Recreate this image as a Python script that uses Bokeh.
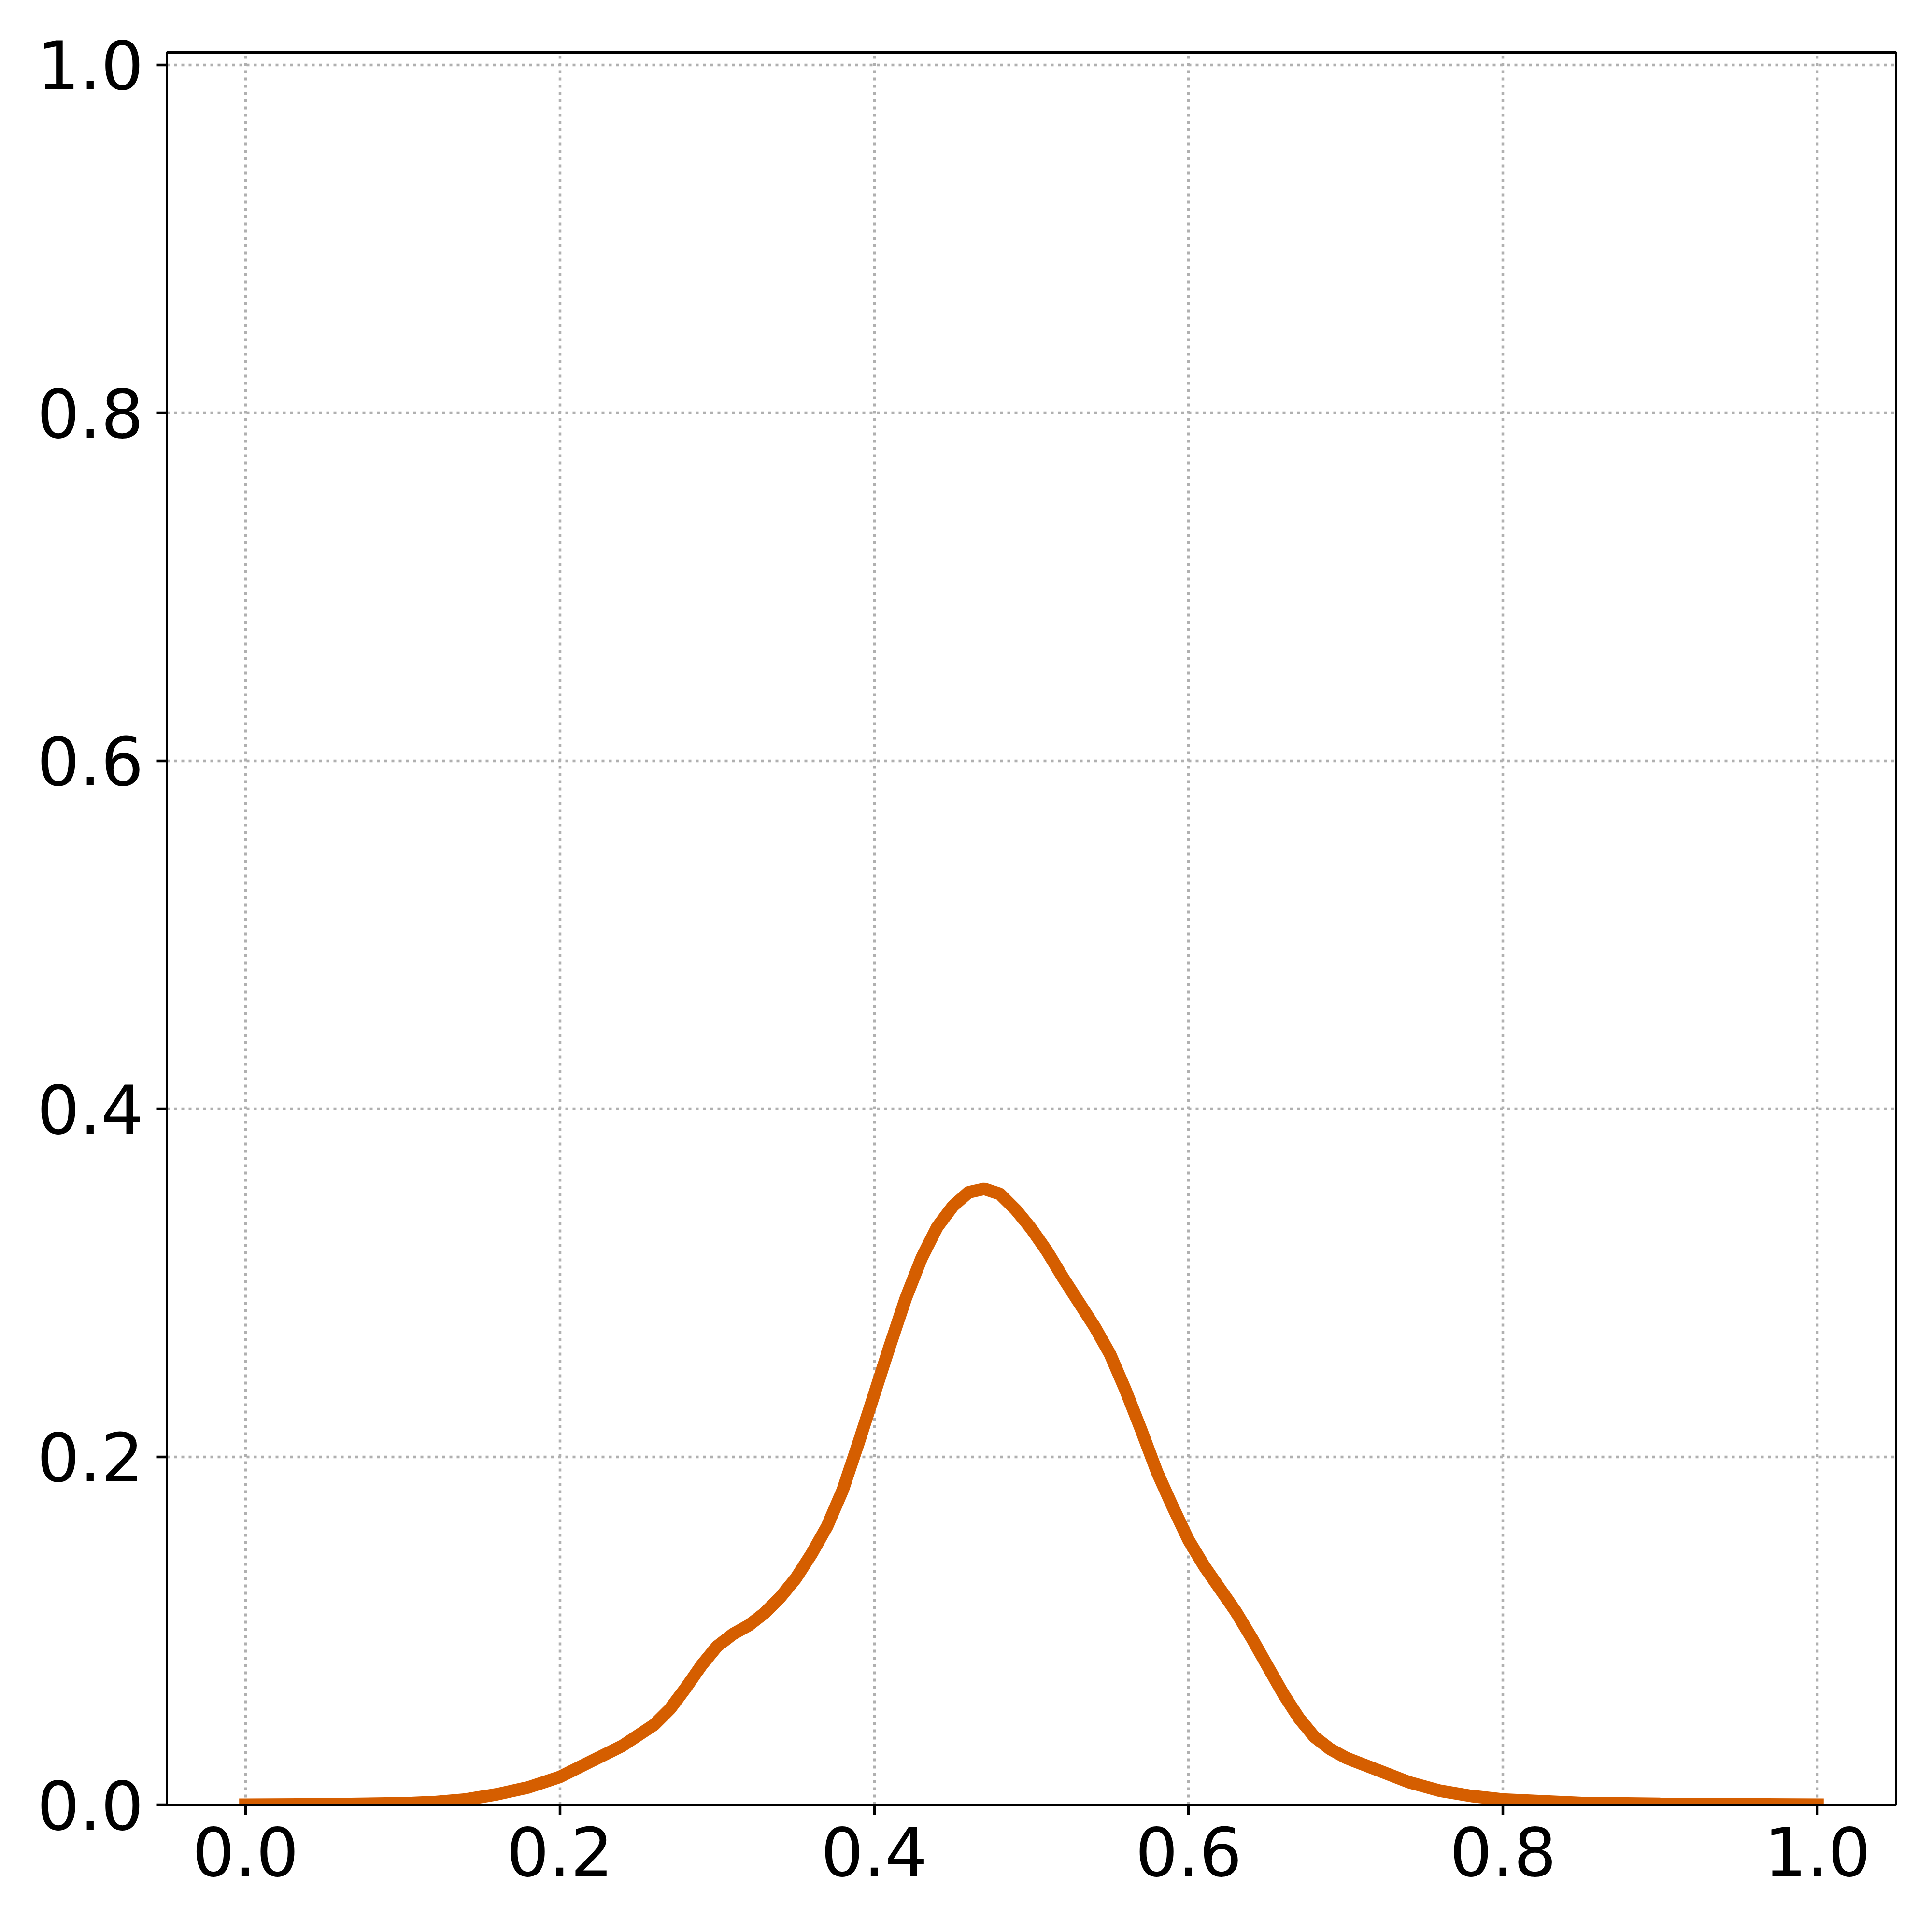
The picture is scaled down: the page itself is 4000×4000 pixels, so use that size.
from bokeh.plotting import figure
from bokeh.models import Range1d, FixedTicker, PrintfTickFormatter
from bokeh.embed import file_html
from bokeh.resources import INLINE

# density curve
x_vals = [0.0, 0.05, 0.10, 0.12, 0.14, 0.16, 0.18, 0.20, 0.22, 0.24, 0.26, 0.27,
          0.28, 0.29, 0.30, 0.31, 0.32, 0.33, 0.34, 0.35, 0.36, 0.37, 0.38, 0.39,
          0.40, 0.41, 0.42, 0.43, 0.44, 0.45, 0.46, 0.47, 0.48, 0.49, 0.50, 0.51,
          0.52, 0.53, 0.54, 0.55, 0.56, 0.57, 0.58, 0.59, 0.60, 0.61, 0.62, 0.63,
          0.64, 0.65, 0.66, 0.67, 0.68, 0.69, 0.70, 0.72, 0.74, 0.76, 0.78, 0.80,
          0.85, 0.90, 0.95, 1.0]
y_vals = [0.0, 0.0002, 0.0008, 0.0015, 0.003, 0.006, 0.010, 0.016, 0.025, 0.034, 0.046, 0.055,
          0.067, 0.080, 0.091, 0.098, 0.103, 0.110, 0.119, 0.130, 0.144, 0.160, 0.181, 0.208,
          0.236, 0.264, 0.291, 0.314, 0.332, 0.344, 0.352, 0.354, 0.351, 0.342, 0.331, 0.318,
          0.303, 0.289, 0.275, 0.259, 0.238, 0.215, 0.191, 0.171, 0.152, 0.137, 0.124, 0.111,
          0.096, 0.080, 0.064, 0.050, 0.039, 0.032, 0.027, 0.020, 0.013, 0.008, 0.005, 0.003,
          0.001, 0.0005, 0.0002, 0.0]

x_ticks = [0.0, 0.2, 0.4, 0.6, 0.8, 1.0]
y_ticks = [0.0, 0.2, 0.4, 0.6, 0.8, 1.0]

W, H = 3984, 3984
p = figure(width=W, height=H, output_backend="svg", toolbar_location=None,
           x_range=Range1d(-0.05, 1.05), y_range=Range1d(0.0, 1.0072),
           min_border_left=345, min_border_right=59, min_border_top=108,
           min_border_bottom=248)
p.background_fill_color = "white"
p.border_fill_color = "white"
p.outline_line_color = "black"
p.outline_line_width = 5

p.line(x_vals, y_vals, line_width=26, line_color="#d55e00", line_cap="square")

for ax, ticks in ((p.xaxis[0], x_ticks), (p.yaxis[0], y_ticks)):
    ax.ticker = FixedTicker(ticks=ticks)
    ax.formatter = PrintfTickFormatter(format="%.1f")
    ax.axis_line_width = 5
    ax.axis_line_color = "black"
    ax.major_tick_line_width = 5.5
    ax.major_tick_line_color = "black"
    ax.major_tick_out = 21
    ax.major_tick_in = 0
    ax.minor_tick_line_color = None
    ax.major_label_text_font = "DejaVu Sans"
    ax.major_label_text_font_size = "139px"
    ax.major_label_text_color = "black"
p.xaxis[0].major_label_standoff = 24
p.yaxis[0].major_label_standoff = 27

for g in (p.xgrid[0], p.ygrid[0]):
    g.grid_line_color = "#b0b0b0"
    g.grid_line_width = 5.5
    g.grid_line_dash = "6 9"

open("out.html", "w").write(file_html(p, INLINE))
